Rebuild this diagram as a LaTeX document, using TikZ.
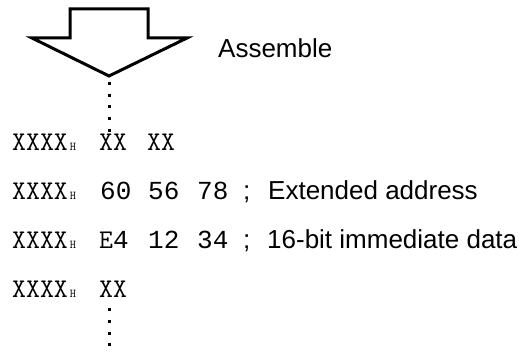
\documentclass[tikz,border=0pt]{standalone}
\usepackage{fontspec}
\setmainfont{Liberation Sans}
\newfontfamily\digitfont{Liberation Mono}
\newcommand{\hmark}{\hspace{2pt}{\fontsize{12}{12}\selectfont H}}

\begin{document}
\begin{tikzpicture}[x=1pt,y=-1pt]
	\tikzstyle{addr}=[anchor=base west,inner sep=0pt,font=\fontsize{27}{27}\selectfont\ttfamily]
	\tikzstyle{byte}=[anchor=base west,inner sep=0pt,font=\fontsize{26}{26}\selectfont\digitfont]
	\tikzstyle{note}=[anchor=base west,inner sep=0pt,font=\fontsize{26}{26}\selectfont]
	\tikzstyle{dots}=[line width=3pt,dash pattern=on 3pt off 8.75pt]
	\useasboundingbox (0,0) rectangle (523,355);

	% assemble arrow
	\draw [line width=3pt] (70,9) -- (148,9) -- (148,38) -- (187,38) -- (109,76) -- (32,38) -- (70,38) -- cycle;
	\coordinate (tip) at (109,76);
	\coordinate (tail) at (109,356);
	\node [note] (asm) at (218,58) {Assemble};

	\node [addr] (a1) at (12,151) {XXXX\hmark};
	\node [addr] (b11) at (99,151) {XX};
	\node [addr] (b12) at (147,151) {XX};

	\node [addr] (a2) at (12,200) {XXXX\hmark};
	\node [byte] (b21) at (100,200) {60};
	\node [byte] (b22) at (148,200) {56};
	\node [byte] (b23) at (197,200) {78};
	\node [note] (s2) at (243,200) {;};
	\node [note] (c2) at (268,200) {Extended address};

	\node [addr] (a3) at (12,249) {XXXX\hmark};
	\node [addr] (b31) at (99,249) {E\digitfont\fontsize{26}{26}\selectfont 4};
	\node [byte] (b32) at (148,249) {12};
	\node [byte] (b33) at (197,249) {34};
	\node [note] (s3) at (243,249) {;};
	\node [note] (c3) at (267,249) {16-bit immediate data};

	\node [addr] (a4) at (12,298) {XXXX\hmark};
	\node [addr] (b41) at (99,298) {XX};

	\draw [dots] ([yshift=-6pt]tip) -- (tip |- b11.north);
	\draw [dots] ([yshift=-10pt]tip |- b41.south) -- (tail);
\end{tikzpicture}
\end{document}
